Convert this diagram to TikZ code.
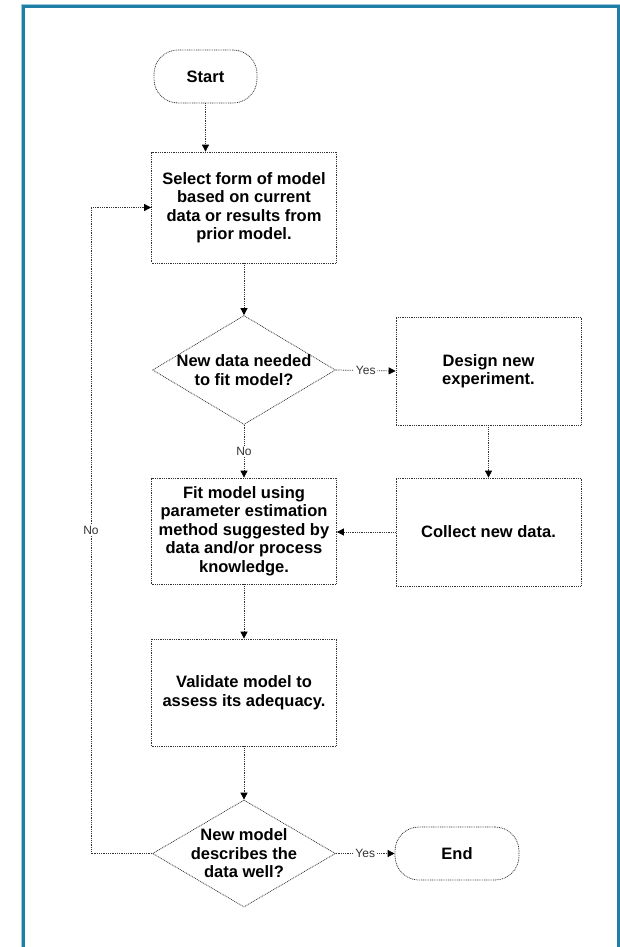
\documentclass[tikz,border=0pt]{standalone}
\usepackage{fontspec}
\setmainfont{Liberation Sans}
\usetikzlibrary{arrows.meta,shapes.geometric}

\definecolor{framedark}{HTML}{1F7EA6}
\definecolor{framelight}{HTML}{9CCBE0}
\definecolor{dotline}{HTML}{333333}

\tikzset{
  dotstyle/.style={draw=dotline, line width=0.75pt, dash pattern=on 0.9pt off 0.9pt},
  procbox/.style={dotstyle, rectangle, minimum width=185pt, minimum height=108pt,
    inner sep=2pt, align=center, font=\fontsize{16.5}{18.5}\selectfont\bfseries},
  termbox/.style={dotstyle, rectangle, rounded corners=24pt, minimum height=53pt,
    align=center, font=\fontsize{16.5}{18.5}\selectfont\bfseries},
  decbox/.style={dotstyle, diamond, minimum width=183pt, minimum height=109pt, inner sep=0pt},
  dectext/.style={align=center, font=\fontsize{16.5}{18.5}\selectfont\bfseries, inner sep=0pt},
  conn/.style={dotstyle, -{Triangle[length=7pt,width=7pt,black]}},
  lbl/.style={fill=white, inner sep=1.5pt, text=black!80, font=\fontsize{12}{14}\selectfont}
}

\begin{document}
\begin{tikzpicture}[x=1pt, y=-1pt]
  % page and frame
  \fill[white] (0,0) rectangle (620,947);
  \useasboundingbox (0,0) rectangle (620,947);
  \draw[framelight, line width=1pt] (21,947) -- (21,4.5) -- (619.5,4.5);
  \draw[framedark, line width=3pt] (23.5,947) -- (23.5,6.5) -- (618,6.5) -- (618,947);

  % terminals
  \node[termbox, minimum width=103pt] (start) at (205.5,76.5) {Start};
  \node[termbox, minimum width=124pt] (stop) at (457,853.5) {End};

  % main column
  \node[procbox, minimum height=111pt] (select) at (244,207.5)
    {Select form of model\\based on current\\data or results from\\prior model.};
  \node[decbox, label={[dectext]center:New data needed\\to fit model?}] (need) at (244,370) {};
  \node[procbox, minimum height=106pt] (fit) at (244,531)
    {Fit model using\\parameter estimation\\method suggested by\\data and/or process\\knowledge.};
  \node[procbox, minimum height=107pt] (valid) at (244,692.5)
    {Validate model to\\assess its adequacy.};
  \node[decbox, minimum height=107pt, label={[dectext]center:New model\\describes the\\data well?}] (good) at (244,853.5) {};

  % side column
  \node[procbox] (design) at (488.5,371) {Design new\\experiment.};
  \node[procbox] (collect) at (488.5,532) {Collect new data.};

  % return path for a rejected model
  \coordinate (loopx) at (91,0);

  % connectors
  \draw[conn] (start.south) -- (start.south |- select.north);
  \draw[conn] (select) -- (need);
  \draw[conn] (need.east) -- node[lbl]{Yes} (design.west);
  \draw[conn] (need) -- node[lbl]{No} (fit);
  \draw[conn] (design) -- (collect);
  \draw[conn] (collect.west) -- (fit.east |- collect.west);
  \draw[conn] (fit) -- (valid);
  \draw[conn] (valid) -- (good);
  \draw[conn] (good.east) -- node[lbl]{Yes} (stop.west);
  \draw[conn] (good.west) -- (good.west -| loopx)
    -- node[lbl]{No} (select.west -| loopx) -- (select.west);
\end{tikzpicture}
\end{document}
